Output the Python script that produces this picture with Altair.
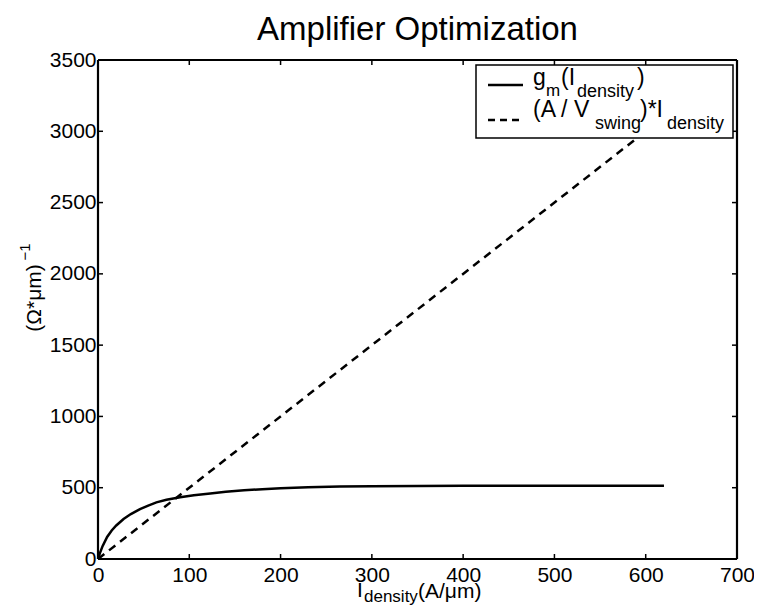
import altair as alt
import pandas as pd

# ---- data ----
gm_x = [0, 2, 5, 10, 15, 20, 28, 36, 46, 55, 64, 75, 90, 105, 123, 140, 160, 180,
        200, 230, 265, 300, 350, 400, 450, 500, 550, 600, 620]
gm_y = [0, 40, 90, 155, 200, 235, 280, 315, 350, 375, 397, 415, 433, 447, 460, 472,
        482, 490, 496, 503, 508, 510, 512, 513, 513, 513, 513, 513, 513]
lin_x = [0, 620]
lin_y = [0, 3100]
x_ticks = [0, 100, 200, 300, 400, 500, 600, 700]
y_ticks = [0, 500, 1000, 1500, 2000, 2500, 3000, 3500]

title_text = "Amplifier Optimization"
legend_1 = ["g", "m", "(I", "density", ")"]
legend_2 = ["(A / V", "swing", ")*I", "density"]
x_title = ["I", "density", "(A/μm)"]
y_title = ["(Ω*μm)", "−1"]

W, H = 639, 499
FONT = "Liberation Sans"

df_gm = pd.DataFrame({"x": gm_x, "y": gm_y})
df_lin = pd.DataFrame({"x": lin_x, "y": lin_y})
df_xt = pd.DataFrame({"v": x_ticks})
df_yt = pd.DataFrame({"v": y_ticks})
one = pd.DataFrame({"a": [0]})

xs = alt.Scale(domain=[0, 700], nice=False, zero=False)
ys = alt.Scale(domain=[0, 3500], nice=False, zero=False)

xaxis = alt.Axis(values=x_ticks, format="d", labelFontSize=21, labelFont=FONT, labelColor="black",
                 domain=False, ticks=False, grid=False, title=None, labelPadding=5,
                 labelFlush=False, labelOverlap=False)
yaxis = alt.Axis(values=y_ticks, format="d", labelFontSize=21, labelFont=FONT, labelColor="black",
                 domain=False, ticks=False, grid=False, title=None, labelPadding=2,
                 labelFlush=False, labelOverlap=False)

gm_line = alt.Chart(df_gm).mark_line(color="black", strokeWidth=2.5).encode(
    x=alt.X("x:Q", scale=xs, axis=xaxis),
    y=alt.Y("y:Q", scale=ys, axis=yaxis),
)
lin_line = alt.Chart(df_lin).mark_line(color="black", strokeWidth=2.5, strokeDash=[8, 6]).encode(
    x=alt.X("x:Q", scale=xs),
    y=alt.Y("y:Q", scale=ys),
)

tick_len = 5
tb = alt.Chart(df_xt).mark_rule(color="black", strokeWidth=1.5).encode(
    x=alt.X("v:Q", scale=xs), y=alt.value(H), y2=alt.value(H - tick_len))
tt = alt.Chart(df_xt).mark_rule(color="black", strokeWidth=1.5).encode(
    x=alt.X("v:Q", scale=xs), y=alt.value(0), y2=alt.value(tick_len))
tl = alt.Chart(df_yt).mark_rule(color="black", strokeWidth=1.5).encode(
    y=alt.Y("v:Q", scale=ys), x=alt.value(0), x2=alt.value(tick_len))
tr = alt.Chart(df_yt).mark_rule(color="black", strokeWidth=1.5).encode(
    y=alt.Y("v:Q", scale=ys), x=alt.value(W), x2=alt.value(W - tick_len))


def frame_rule(x, x2, y, y2):
    return alt.Chart(one).mark_rule(color="black", strokeWidth=2.2).encode(
        x=alt.value(x), x2=alt.value(x2), y=alt.value(y), y2=alt.value(y2))


frame = [frame_rule(0, W, 0, 0), frame_rule(0, W, H, H),
         frame_rule(0, 0, 0, H), frame_rule(W, W, 0, H)]

OX, OY = 98, 60  # absolute position of plot origin (for converting measured coords)


def txt(s, ax, ay, size, align="left", baseline="alphabetic", angle=0):
    kw = dict(font=FONT, fontSize=size, color="black", align=align, baseline=baseline)
    if angle:
        kw["angle"] = angle
    return alt.Chart(one).mark_text(**kw).encode(
        x=alt.value(ax - OX), y=alt.value(ay - OY), text=alt.value(s))


leg_box = alt.Chart(one).mark_rect(fill="white", stroke="black", strokeWidth=1.5).encode(
    x=alt.value(476 - OX), x2=alt.value(733 - OX), y=alt.value(65 - OY), y2=alt.value(138 - OY))
leg_s1 = alt.Chart(one).mark_rule(color="black", strokeWidth=2.5).encode(
    x=alt.value(488 - OX), x2=alt.value(523 - OX), y=alt.value(85 - OY))
leg_s2 = alt.Chart(one).mark_rule(color="black", strokeWidth=2.5, strokeDash=[7, 5]).encode(
    x=alt.value(488 - OX), x2=alt.value(523 - OX), y=alt.value(120 - OY))

MAIN, SUB = 23, 18
texts = [
    txt(legend_1[0], 533, 85, MAIN), txt(legend_1[1], 546, 96, 17),
    txt(legend_1[2], 561, 85, MAIN), txt(legend_1[3], 577, 97, SUB),
    txt(legend_1[4], 637, 85, MAIN),
    txt(legend_2[0], 533, 117, MAIN), txt(legend_2[1], 595, 129, SUB),
    txt(legend_2[2], 640, 117, MAIN), txt(legend_2[3], 667, 129, SUB),
    txt(x_title[0], 357, 597, 21), txt(x_title[1], 364, 602, 17),
    txt(x_title[2], 418, 598, 21),
    txt(y_title[0], 35, 298, 21, align="center", baseline="middle", angle=270),
    txt(y_title[1], 25, 252, 15, align="center", baseline="middle", angle=270),
    txt(title_text, OX + W / 2, 40, 33, align="center"),
]

chart = alt.layer(gm_line, lin_line, tb, tt, tl, tr, leg_box, leg_s1, leg_s2, *frame, *texts).properties(
    width=W, height=H,
    autosize=alt.AutoSizeParams(type="none"),
    padding={"left": OX - 8, "top": OY - 8, "right": 762 - 16 - (OX - 8) - W, "bottom": 598 - (OY - 8) - H},
).configure_view(strokeWidth=0).configure(background="white")

chart.save("out.html", embed_options={"renderer": "svg", "actions": False})
